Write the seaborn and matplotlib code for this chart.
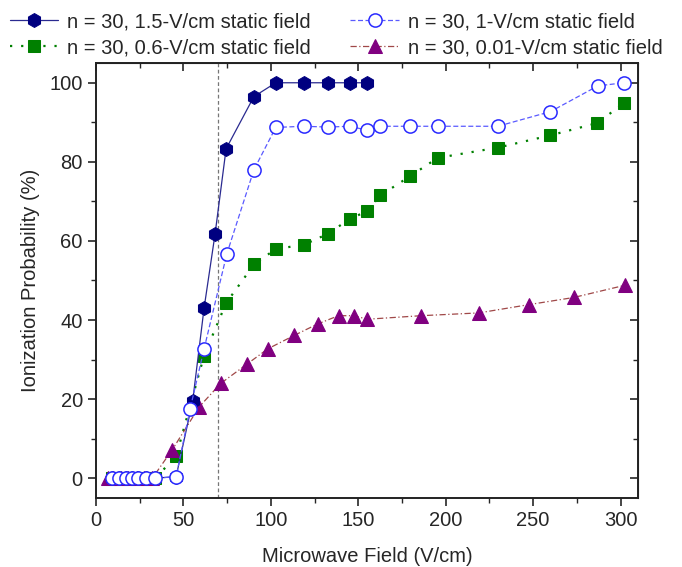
import matplotlib
matplotlib.use("Agg")
import matplotlib.pyplot as plt
from matplotlib.ticker import MultipleLocator
import seaborn as sns

# ---------------------------------------------
# Data
# ---------------------------------------------
low_x = [9.0, 13.2, 17.0, 20.4, 24.2, 28.6, 33.8, 45.8]

x_15 = low_x + [55.3, 61.8, 68.1, 74.4, 90.3, 102.8, 118.7, 132.6, 145.2, 155.0]
y_15 = [0, 0, 0, 0, 0, 0, 0, 0.4, 19.6, 43.0, 61.8, 83.3, 96.5, 100, 100, 100, 100, 100]

x_10 = low_x + [53.8, 61.8, 74.8, 90.3, 102.8, 118.7, 132.6, 145.2, 155.0, 162.6,
                179.7, 195.4, 229.8, 259.9, 287.0, 301.8]
y_10 = [0, 0, 0, 0, 0, 0, 0, 0.4, 17.5, 32.7, 56.7, 78.0, 88.7, 89.0, 88.8, 89.0, 88.0, 89.0,
        89.0, 89.0, 89.0, 92.7, 99.2, 100]

x_06 = [9.0, 13.2, 17.0, 20.4, 24.2, 28.6, 33.8, 45.8, 61.8, 74.4, 90.6, 103.0, 118.7,
        132.6, 145.2, 155.0, 162.6, 179.7, 195.4, 229.8, 259.9, 286.6, 301.8]
y_06 = [0, 0, 0, 0, 0, 0, 0, 5.5, 31.0, 44.3, 54.2, 58.0, 59.0, 61.8, 65.6, 67.5, 71.5,
        76.4, 81.0, 83.6, 86.7, 89.8, 94.8]

x_001 = [6.7, 9.9, 14.3, 18.5, 23.3, 27.6, 32.2, 43.6, 59.1, 71.4, 86.5, 98.2, 113.3,
         126.7, 138.7, 147.8, 155.0, 186.0, 218.9, 247.6, 273.2, 302.6]
y_001 = [0, 0, 0, 0, 0, 0, 0, 7.2, 18.1, 24.0, 28.9, 32.7, 36.1, 39.0, 41.1, 41.1, 40.2,
         41.1, 41.8, 43.9, 45.7, 48.8]

labels = ["n = 30, 1.5-V/cm static field", "n = 30, 1-V/cm static field",
          "n = 30, 0.6-V/cm static field", "n = 30, 0.01-V/cm static field"]

threshold_x = 69.5

# ---------------------------------------------
# Style
# ---------------------------------------------
sns.set_style("ticks")
plt.rcParams["font.family"] = ["Liberation Sans", "DejaVu Sans"]
plt.rcParams["font.size"] = 14.5

fig = plt.figure(figsize=(6.82, 5.67), dpi=100)
ax = fig.add_axes([0.1408, 0.1217, 0.7947, 0.7672])

# 1.5 V/cm : navy hexagons, solid line
sns.lineplot(x=x_15, y=y_15, ax=ax, sort=False, color="#2a2a90", lw=0.9,
             marker="h", markersize=10, markerfacecolor="#000080",
             markeredgecolor="#000080", label=labels[0], zorder=3)

# 0.6 V/cm : green squares, dotted line
sns.lineplot(x=x_06, y=y_06, ax=ax, sort=False, color="#008000", lw=1.6,
             linestyle=(0, (1, 4)), marker="s", markersize=8,
             markerfacecolor="#008000", markeredgecolor="#008000",
             label=labels[2], zorder=2)

# 0.01 V/cm : purple triangles, dash-dot line
sns.lineplot(x=x_001, y=y_001, ax=ax, sort=False, color="#a04848", lw=0.9,
             linestyle=(0, (5, 2, 1, 2)), marker="^", markersize=10,
             markerfacecolor="#800080", markeredgecolor="#800080",
             label=labels[3], zorder=2)

# 1 V/cm : open blue circles, dashed line
sns.lineplot(x=x_10, y=y_10, ax=ax, sort=False, color="#5a5aff", lw=0.9,
             linestyle=(0, (4, 2)), marker="o", markersize=9.5,
             markerfacecolor="white", markeredgecolor="#2a2aff",
             markeredgewidth=1.1, label=labels[1], zorder=4)

ax.axvline(threshold_x, color="#777777", lw=0.9, linestyle=(0, (3, 2)), zorder=1)

# ---------------------------------------------
# Axes formatting
# ---------------------------------------------
ax.set_xlim(0, 310)
ax.set_ylim(-5, 105)
ax.xaxis.set_major_locator(MultipleLocator(50))
ax.xaxis.set_minor_locator(MultipleLocator(25))
ax.yaxis.set_major_locator(MultipleLocator(20))
ax.yaxis.set_minor_locator(MultipleLocator(10))
ax.tick_params(which="major", direction="out", length=6, width=1.2, labelsize=14.5)
ax.tick_params(which="minor", direction="out", length=3.5, width=1.0)
ax.set_xlabel("Microwave Field (V/cm)", fontsize=14.5, labelpad=12)
ax.set_ylabel("Ionization Probability (%)", fontsize=14.5, labelpad=7)
for sp in ax.spines.values():
    sp.set_visible(True)
    sp.set_linewidth(1.4)
    sp.set_color("#222222")

# inward ticks on top and right
top = ax.secondary_xaxis("top")
top.xaxis.set_major_locator(MultipleLocator(50))
top.xaxis.set_minor_locator(MultipleLocator(25))
top.tick_params(which="major", direction="in", length=6, width=1.2, labeltop=False)
top.tick_params(which="minor", direction="in", length=3.5, width=1.0)
right = ax.secondary_yaxis("right")
right.yaxis.set_major_locator(MultipleLocator(20))
right.yaxis.set_minor_locator(MultipleLocator(10))
right.tick_params(which="major", direction="in", length=6, width=1.2, labelright=False)
right.tick_params(which="minor", direction="in", length=3.5, width=1.0)

# ---------------------------------------------
# Legend above the axes, two columns
# ---------------------------------------------
handles, labs = ax.get_legend_handles_labels()
order = [labs.index(labels[i]) for i in [0, 2, 1, 3]]
ax.get_legend().remove()
fig.legend([handles[i] for i in order], [labs[i] for i in order], ncol=2,
           loc="upper left", bbox_to_anchor=(-0.012, 1.01), frameon=False,
           fontsize=14.5, handlelength=2.4, handletextpad=0.45,
           columnspacing=1.95, labelspacing=0.35)

fig.savefig("out.png", dpi=100)
